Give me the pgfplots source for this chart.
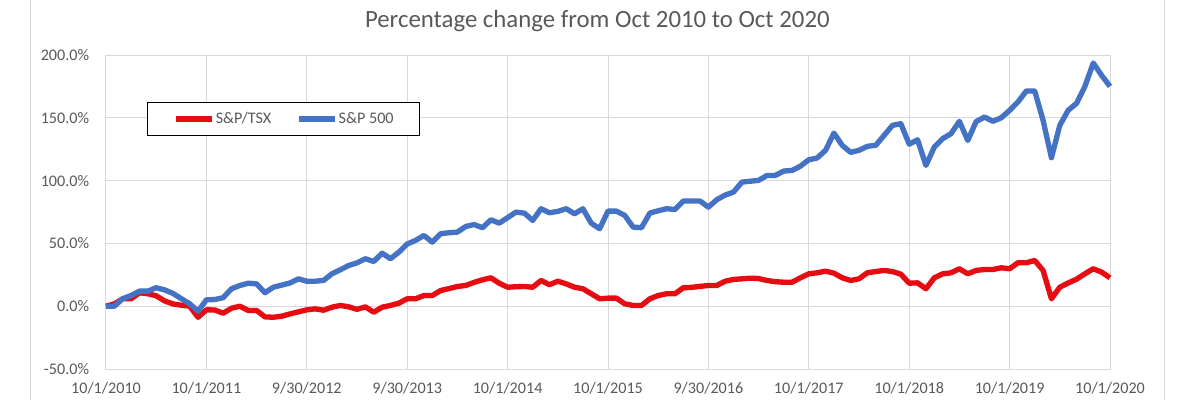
\documentclass[border=0pt]{standalone}
\usepackage{fontspec}
\setmainfont{Carlito}
\usepackage{pgfplots}
\pgfplotsset{compat=1.18}
\definecolor{tsx}{RGB}{230,12,18}
\definecolor{spx}{RGB}{68,114,196}
\definecolor{gridc}{RGB}{217,217,217}
\definecolor{lblc}{RGB}{89,89,89}
\begin{document}
\begin{tikzpicture}
\path[use as bounding box] (0pt,0pt) rectangle (900pt,300pt);
\draw[gridc, line width=0.75pt] (22.5pt,0pt) -- (22.5pt,300pt);
\draw[gridc, line width=0.75pt] (873pt,0pt) -- (873pt,300pt);
\node[font=\fontsize{18.6}{22}\selectfont, text=lblc] at (448pt,284.5pt) {Percentage change from Oct 2010 to Oct 2020};
\begin{axis}[
  at={(79.5pt,23.25pt)}, anchor=south west,
  scale only axis, width=753pt, height=235.5pt,
  xmin=0, xmax=120, ymin=-50, ymax=200,
  xtick={0,12,...,120},
  xticklabels={10/1/2010,10/1/2011,9/30/2012,9/30/2013,10/1/2014,10/1/2015,9/30/2016,10/1/2017,10/1/2018,10/1/2019,10/1/2020},
  ytick={-50,0,50,100,150,200},
  /pgf/number format/.cd, fixed, fixed zerofill, precision=1, assume math mode=true, /pgfplots/.cd,
  yticklabel={\pgfmathprintnumber{\tick}\%},
  tick label style={font=\fontsize{12.1}{14}\selectfont, text=lblc},
  yticklabel style={inner sep=0pt, xshift=-12.5pt},
  xticklabel style={inner sep=0pt, yshift=-10pt},
  grid=major, grid style={gridc, line width=0.75pt},
  axis line style={gridc, line width=0.75pt},
  major tick length=0pt,
  clip=false,
  legend columns=2,
  legend style={at={(0.041,0.851)}, anchor=north west, draw=black, line width=0.9pt,
    inner xsep=19pt, inner ysep=5.5pt,
    font=\fontsize{12.1}{14}\selectfont, text=lblc,
    nodes={inner xsep=0.5pt},
    /tikz/every even column/.append style={column sep=18pt}},
  legend image code/.code={\draw[#1, line width=4pt] (0pt,0pt) -- (27.5pt,0pt);},
  every axis plot/.append style={line width=4pt, line join=round},
]
\addplot[tsx] coordinates {
(0,0) (1,1.9) (2,5.9) (3,5.9) (4,10.7) (5,9.9) (6,8.3) (7,4.2) (8,1.8) (9,0.8)
(10,0) (11,-8.8) (12,-2.9) (13,-3) (14,-5.6) (15,-1.6) (16,0) (17,-3.4) (18,-3.4) (19,-8.5)
(20,-8.8) (21,-8) (22,-6.1) (23,-4.5) (24,-2.9) (25,-2.1) (26,-3.2) (27,-0.8) (28,0.6) (29,-0.5)
(30,-2.5) (31,-0.5) (32,-4.8) (33,-0.8) (34,0.6) (35,2.4) (36,5.9) (37,5.9) (38,8.5) (39,8.5)
(40,12.5) (41,14) (42,15.7) (43,16.5) (44,19) (45,21) (46,22.6) (47,18.3) (48,15.1) (49,15.5)
(50,15.7) (51,15.1) (52,20.5) (53,17.1) (54,19.9) (55,17.8) (56,15.1) (57,13.9) (58,9.9) (59,5.9)
(60,6.4) (61,6.4) (62,1.9) (63,0.6) (64,0.6) (65,5.9) (66,8.5) (67,9.9) (68,9.9) (69,14.7)
(70,15) (71,15.8) (72,16.5) (73,16.5) (74,19.9) (75,21.3) (76,21.8) (77,22.3) (78,22) (79,20.5)
(80,19.5) (81,19.1) (82,19.1) (83,22.6) (84,25.8) (85,26.6) (86,27.9) (87,26.3) (88,22.6) (89,20.5)
(90,21.8) (91,26.6) (92,27.6) (93,28.5) (94,27.6) (95,25.5) (96,18.3) (97,18.6) (98,13.9) (99,22.6)
(100,25.8) (101,26.6) (102,29.8) (103,25.8) (104,28.5) (105,29.2) (106,29.2) (107,30.6) (108,29.8) (109,34.6)
(110,34.6) (111,36.4) (112,28.5) (113,5.9) (114,15.1) (115,18.5) (116,21.5) (117,25.8) (118,29.8) (119,27.1)
(120,22.6)
};
\addlegendentry{S\&P/TSX}
\addplot[spx] coordinates {
(0,0) (1,0) (2,6) (3,8.5) (4,12) (5,12) (6,14.7) (7,13) (8,10.2) (9,6)
(10,2) (11,-4) (12,5.1) (13,5.3) (14,6.8) (15,13.9) (16,16.5) (17,18.3) (18,17.8) (19,10.7)
(20,15.1) (21,16.8) (22,18.5) (23,21.8) (24,19.9) (25,19.9) (26,20.5) (27,25.8) (28,29) (29,32.4)
(30,34.5) (31,37.8) (32,35.6) (33,42.2) (34,37.8) (35,43) (36,49.5) (37,52.4) (38,56.3) (39,51)
(40,57.7) (41,58.5) (42,59) (43,63.5) (44,65) (45,62.5) (46,68.8) (47,66.1) (48,70.5) (49,74.9)
(50,74.1) (51,68.3) (52,77.6) (53,74.4) (54,75.5) (55,77.6) (56,73.6) (57,77.6) (58,66.1) (59,61.7)
(60,75.7) (61,75.7) (62,72.3) (63,63) (64,62.5) (65,74.1) (66,76) (67,77.6) (68,77) (69,83.7)
(70,83.7) (71,83.7) (72,78.9) (73,84.8) (74,88.5) (75,90.8) (76,98.8) (77,99.5) (78,100.2) (79,104.1)
(80,104.1) (81,107.6) (82,108.1) (83,111.5) (84,116.6) (85,118) (86,124.1) (87,137.8) (88,128) (89,122.5)
(90,124.1) (91,127.3) (92,128.1) (93,136) (94,144) (95,145.3) (96,129) (97,132.5) (98,112.1) (99,126.7)
(100,133.4) (101,137.4) (102,147.2) (103,132) (104,147) (105,150.6) (106,147.2) (107,150) (108,155.9) (109,162.6)
(110,171.4) (111,171.4) (112,148) (113,118.2) (114,144) (115,156) (116,161.5) (117,175) (118,193.6) (119,183.8)
(120,175)
};
\addlegendentry{S\&P 500}
\end{axis}
\end{tikzpicture}
\end{document}
